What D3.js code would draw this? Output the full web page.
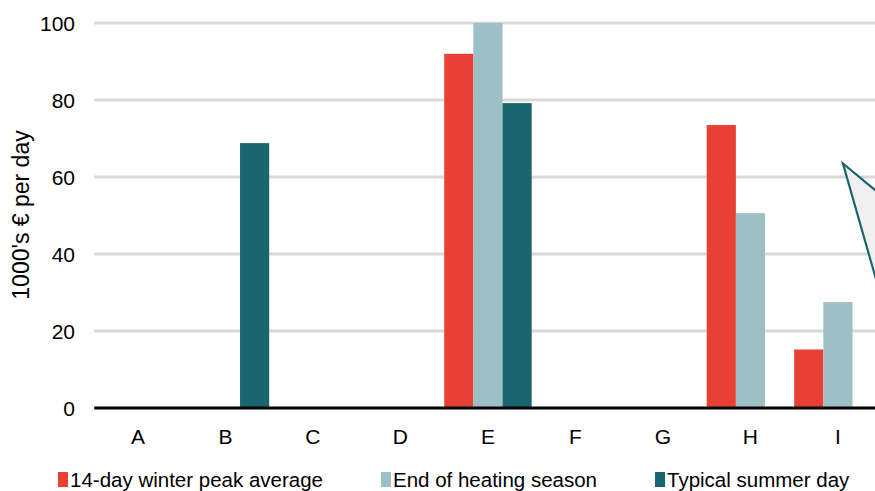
<!DOCTYPE html>
<html><head><meta charset="utf-8">
<script src="https://cdn.jsdelivr.net/npm/d3@7"></script>
<style>
html,body{margin:0;padding:0;background:#fff;overflow:hidden}
text{font-family:"Liberation Sans",Arial,sans-serif;fill:#000}
</style></head>
<body>
<svg id="chart" width="875" height="491"></svg>
<script>
const categories = ["A","B","C","D","E","F","G","H","I"];
const seriesNames = ["14-day winter peak average","End of heating season","Typical summer day"];
const winterPeak = [0, 0, 0, 0, 92, 0, 0, 73.5, 15.2];
const endHeating = [0, 0, 0, 0, 100, 0, 0, 50.6, 27.5];
const summerDay  = [0, 68.8, 0, 0, 79.2, 0, 0, 0, 0];
const yTicks = [0, 20, 40, 60, 80, 100];
const colors = ["#e84034", "#9cc0c3", "#19666e"];

const svg = d3.select("#chart");
const W = 875, H = 491;
const left = 94.2, step = 87.5;
const x = d3.scaleBand().domain(categories).range([left, left + step*categories.length]).padding(0);
const xs = d3.scaleBand().domain(d3.range(3)).range([0, x.bandwidth()]).padding(0);
const y = d3.scaleLinear().domain([0, 100]).range([408, 23]);

const g = svg.append("g");
// gridlines
g.selectAll("line.grid").data(yTicks.filter(d=>d>0)).join("line")
  .attr("x1", left).attr("x2", W).attr("y1", d=>y(d)).attr("y2", d=>y(d))
  .attr("stroke", "#d9d9d9").attr("stroke-width", 3);

// y tick labels
g.selectAll("text.yt").data(yTicks).join("text")
  .attr("x", 75).attr("y", d=>y(d)).attr("dy", "0.36em")
  .attr("text-anchor", "end").attr("font-size", 21).text(d=>d);

// bars
const series = [winterPeak, endHeating, summerDay];
series.forEach((vals, si) => {
  g.selectAll("rect.s"+si).data(categories.map((c,i)=>({c, v: vals[i]})).filter(d=>d.v>0)).join("rect")
    .attr("x", d=>x(d.c)+xs(si)).attr("width", xs.bandwidth())
    .attr("y", d=>y(d.v)).attr("height", d=>y(0)-y(d.v))
    .attr("fill", colors[si]);
});

// axis line
g.append("line").attr("x1", left).attr("x2", W).attr("y1", y(0)).attr("y2", y(0))
  .attr("stroke", "#000").attr("stroke-width", 3);

// x labels
g.selectAll("text.xt").data(categories).join("text")
  .attr("x", d=>x(d)+x.bandwidth()/2).attr("y", 444)
  .attr("text-anchor", "middle").attr("font-size", 21).text(d=>d);

// y axis title
g.append("text").attr("transform", "translate(29,215) rotate(-90)")
  .attr("text-anchor", "middle").attr("font-size", 23).text("1000's € per day");

// callout shape (partially outside view)
const ax = x("I") + x.bandwidth()/2 + 5, ay = y(63.5);
svg.append("path")
  .attr("d", `M${ax},${ay} L${ax+80},${ay+66} L${ax+40},${ay+140} Z`)
  .attr("fill", "#f0f0f0").attr("stroke", "#19666e").attr("stroke-width", 2.2).attr("stroke-linejoin","miter");

// legend
const legX = [58, 381, 655];
const leg = svg.selectAll("g.leg").data(seriesNames).join("g")
  .attr("transform", (d,i)=>`translate(${legX[i]},0)`);
leg.append("rect").attr("x", 0).attr("y", 472).attr("width", 10).attr("height", 15)
  .attr("fill", (d,i)=>colors[i]);
leg.append("text").attr("x", 12).attr("y", 487).attr("font-size", 20.5).text(d=>d);
</script>
</body></html>
